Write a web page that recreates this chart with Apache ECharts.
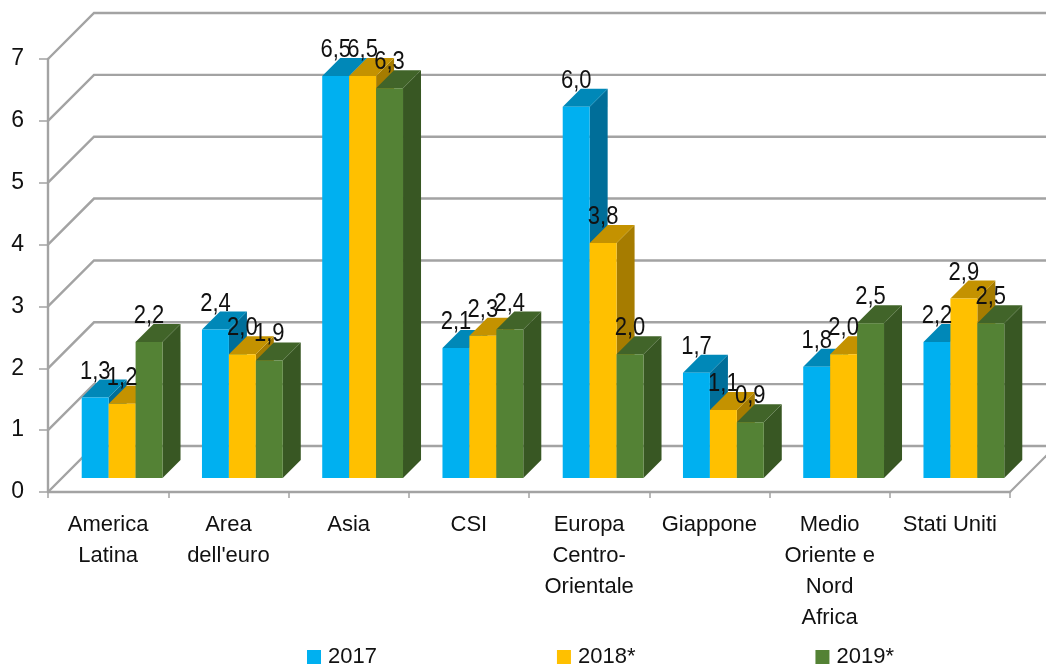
<!DOCTYPE html>
<html>
<head>
<meta charset="utf-8">
<style>html,body{margin:0;padding:0;background:#fff}#c{width:1046px;height:667px}</style>
<script src="https://cdn.jsdelivr.net/npm/echarts@6/dist/echarts.min.js"></script>
</head>
<body>
<div id="c"></div>
<script>
const categories = ["America\nLatina", "Area\ndell'euro", "Asia", "CSI", "Europa\nCentro-\nOrientale", "Giappone", "Medio\nOriente e\nNord\nAfrica", "Stati Uniti"];
const yTicks = [0, 1, 2, 3, 4, 5, 6, 7];
const values2017 = [1.3, 2.4, 6.5, 2.1, 6.0, 1.7, 1.8, 2.2];
const values2018 = [1.2, 2.0, 6.5, 2.3, 3.8, 1.1, 2.0, 2.9];
const values2019 = [2.2, 1.9, 6.3, 2.4, 2.0, 0.9, 2.5, 2.5];

const FONT = '"Liberation Sans", Arial, sans-serif';
const FS = 22;
const GRAY = '#a3a3a3';
const WALL = 46, FRONT = 14, DEPTH = 18;
const BAR_RATIO = 0.224;

function barRender(seriesIdx, front, top, side) {
  return function (params, api) {
    const i = api.value(0), v = api.value(1);
    const band = api.size([1, 0])[0];
    const w = band * BAR_RATIO;
    const c = api.coord([i, v]), b = api.coord([i, 0]);
    const x0 = c[0] - 1.5 * w + seriesIdx * w + FRONT;
    const x1 = x0 + w;
    const yt = c[1] - FRONT, yb = b[1] - FRONT;
    return {
      type: 'group',
      children: [
        { type: 'polygon', shape: { points: [[x1, yb], [x1 + DEPTH, yb - DEPTH], [x1 + DEPTH, yt - DEPTH], [x1, yt]] }, style: { fill: side } },
        { type: 'polygon', shape: { points: [[x0, yt], [x1, yt], [x1 + DEPTH, yt - DEPTH], [x0 + DEPTH, yt - DEPTH]] }, style: { fill: top } },
        { type: 'rect', shape: { x: x0, y: yt, width: w, height: yb - yt }, style: { fill: front } }
      ]
    };
  };
}

function labelRender(seriesIdx) {
  return function (params, api) {
    const i = api.value(0), v = api.value(1);
    const w = api.size([1, 0])[0] * BAR_RATIO;
    const c = api.coord([i, v]);
    const x = c[0] - 1.5 * w + seriesIdx * w + FRONT + w / 2;
    return {
      type: 'text',
      x: x, y: c[1] - FRONT - 26, scaleY: 1.15,
      style: { text: v.toFixed(1).replace('.', ','), font: FS + 'px ' + FONT, fill: '#111', align: 'center', verticalAlign: 'middle' }
    };
  };
}

function wallRender(params, api) {
  const v = api.value(1);
  const p = api.coord([0, v]);
  const r = params.coordSys;
  const x = r.x, y = p[1], xr = r.x + r.width;
  const children = [{
    type: 'polyline',
    shape: { points: [[x, y], [x + WALL, y - WALL], [xr + WALL, y - WALL]] },
    style: { stroke: GRAY, lineWidth: 2.4, fill: null }
  }];
  if (v === 0) {
    children.push({ type: 'line', shape: { x1: xr, y1: y, x2: xr + WALL, y2: y - WALL }, style: { stroke: GRAY, lineWidth: 2.2 } });
  }
  return { type: 'group', children };
}

const toPairs = arr => arr.map((v, i) => [i, v]);
const years = [
  { name: '2017', data: values2017, front: '#00B0F0', top: '#0088B8', side: '#006E99' },
  { name: '2018*', data: values2018, front: '#FFC000', top: '#C49200', side: '#A67C00' },
  { name: '2019*', data: values2019, front: '#548235', top: '#416429', side: '#385723' }
];

const series = [{
  type: 'custom', silent: true, z: 1,
  data: yTicks.map(v => [0, v]),
  encode: { x: 0, y: 1 },
  renderItem: wallRender
}];
years.forEach((s, k) => series.push({
  name: s.name, type: 'custom', z: 2 + k, clip: false,
  itemStyle: { color: s.front },
  data: toPairs(s.data),
  encode: { x: 0, y: 1 },
  renderItem: barRender(k, s.front, s.top, s.side)
}));
years.forEach((s, k) => series.push({
  type: 'custom', silent: true, z: 10,
  data: toPairs(s.data),
  encode: { x: 0, y: 1 },
  renderItem: labelRender(k)
}));

const chart = echarts.init(document.getElementById('c'), null, { renderer: 'canvas' });
chart.setOption({
  animation: false,
  backgroundColor: '#fff',
  grid: { left: 48, right: 36, top: 59, bottom: 175, containLabel: false },
  legend: {
    left: 302, top: 641, itemWidth: 14, itemHeight: 14, itemGap: 180, itemStyle: {}, icon: 'rect',
    selectedMode: false,
    data: years.map(s => s.name),
    textStyle: { fontFamily: FONT, fontSize: FS, color: '#111', padding: [0, 0, 0, 2] }
  },
  xAxis: {
    type: 'category', data: categories, boundaryGap: true,
    axisLine: { show: true, lineStyle: { color: GRAY, width: 2.4 } },
    axisTick: { show: true, length: 6, alignWithLabel: false, lineStyle: { color: GRAY, width: 1.5 } },
    axisLabel: { interval: 0, margin: 17, fontFamily: FONT, fontSize: FS, color: '#111', lineHeight: 31, align: 'center', verticalAlign: 'top' },
    splitLine: { show: false }
  },
  yAxis: {
    type: 'value', min: 0, max: 7, interval: 1,
    axisLine: { show: true, lineStyle: { color: GRAY, width: 2.4 } },
    axisTick: { show: true, length: 9, lineStyle: { color: GRAY, width: 1.5 } },
    axisLabel: { margin: 24, fontFamily: FONT, fontSize: 23, color: '#111' },
    splitLine: { show: false }
  },
  tooltip: { show: false },
  series
});
</script>
</body>
</html>
